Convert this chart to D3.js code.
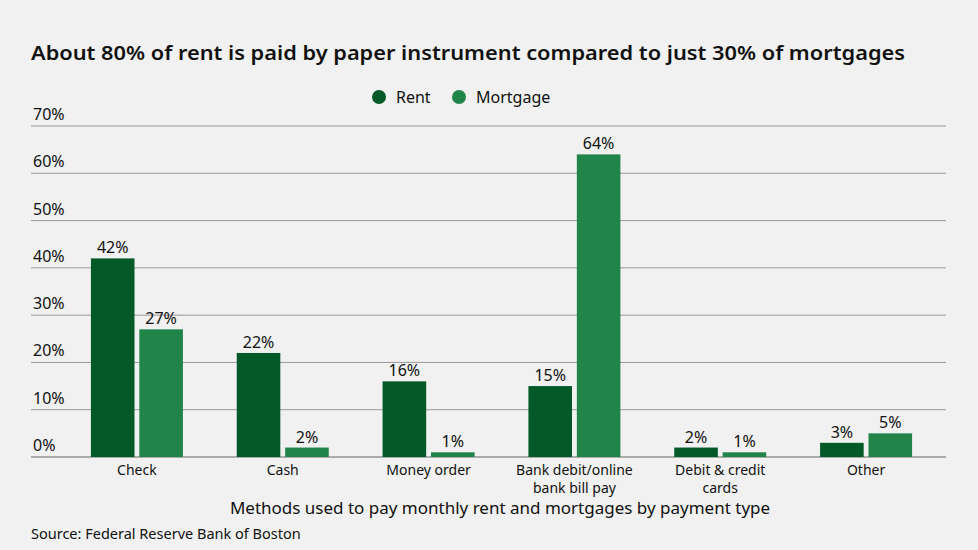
<!DOCTYPE html>
<html><head><meta charset="utf-8">
<script src="https://cdn.jsdelivr.net/npm/d3@7"></script>
<style>
body{margin:0;background:#f0f1f0;}
svg{display:block;font-family:"Noto Sans",sans-serif;}
</style></head>
<body><svg id="c" width="978" height="550"></svg>
<script>
const categories = [["Check"],["Cash"],["Money order"],["Bank debit/online","bank bill pay"],["Debit & credit","cards"],["Other"]];
const rent = [42,22,16,15,2,3];
const mortgage = [27,2,1,64,1,5];
const seriesNames = ["Rent","Mortgage"];
const yTicks = [0,10,20,30,40,50,60,70];
const colors = ["#035a28","#21854a"];

const svg = d3.select("#c");
svg.append("rect").attr("width",978).attr("height",550).attr("fill","#f0f1f0");

const y = d3.scaleLinear().domain([0,70]).range([457,126]);
const x0 = d3.scaleBand().domain(d3.range(categories.length)).range([64,939]).paddingInner(0).paddingOuter(0);
const x1 = d3.scaleBand().domain([0,1]).range([x0.bandwidth()/2-46, x0.bandwidth()/2+46]).paddingInner(0.1);

svg.append("text").attr("x",31).attr("y",60).attr("font-size",20.5).attr("font-weight",600).attr("fill","#111")
  .attr("textLength",874).attr("lengthAdjust","spacingAndGlyphs")
  .text("About 80% of rent is paid by paper instrument compared to just 30% of mortgages");

const g = svg.append("g");
yTicks.forEach(t=>{
  g.append("line").attr("x1",31).attr("x2",946).attr("y1",y(t)).attr("y2",y(t))
    .attr("stroke", t===0?"#666":"#999").attr("stroke-width",1);
  g.append("text").attr("x",33).attr("y",y(t)-6).attr("font-size",16).attr("fill","#111").text(t+"%");
});

const leg = svg.append("g");
[[379,396],[459,476]].forEach((p,i)=>{
  leg.append("circle").attr("cx",p[0]).attr("cy",97).attr("r",7).attr("fill",colors[i]);
  leg.append("text").attr("x",p[1]).attr("y",103).attr("font-size",16).attr("fill","#111").text(seriesNames[i]);
});

const data = categories.map((c,i)=>({c,i,vals:[rent[i],mortgage[i]]}));
const grp = svg.append("g").selectAll("g").data(data).join("g").attr("transform",d=>`translate(${x0(d.i)},0)`);
grp.selectAll("rect").data(d=>d.vals.map((v,k)=>({v,k}))).join("rect")
  .attr("x",d=>x1(d.k)).attr("width",x1.bandwidth()).attr("y",d=>y(d.v)).attr("height",d=>y(0)-y(d.v))
  .attr("fill",d=>colors[d.k]);
grp.selectAll("text.v").data(d=>d.vals.map((v,k)=>({v,k}))).join("text").attr("class","v")
  .attr("x",d=>x1(d.k)+x1.bandwidth()/2).attr("y",d=>y(d.v)-5).attr("text-anchor","middle")
  .attr("font-size",16).attr("fill","#111").text(d=>d.v+"%");
grp.each(function(d){
  d.c.forEach((line,j)=>d3.select(this).append("text").attr("text-anchor","middle").attr("font-size",14)
    .attr("fill","#111").attr("x",x0.bandwidth()/2).attr("y",475+j*18).text(line));
});

svg.append("text").attr("x",500).attr("y",514).attr("text-anchor","middle").attr("font-size",17).attr("fill","#111")
  .text("Methods used to pay monthly rent and mortgages by payment type");
svg.append("text").attr("x",31).attr("y",539).attr("font-size",14.5).attr("fill","#111")
  .text("Source: Federal Reserve Bank of Boston");
</script></body></html>
